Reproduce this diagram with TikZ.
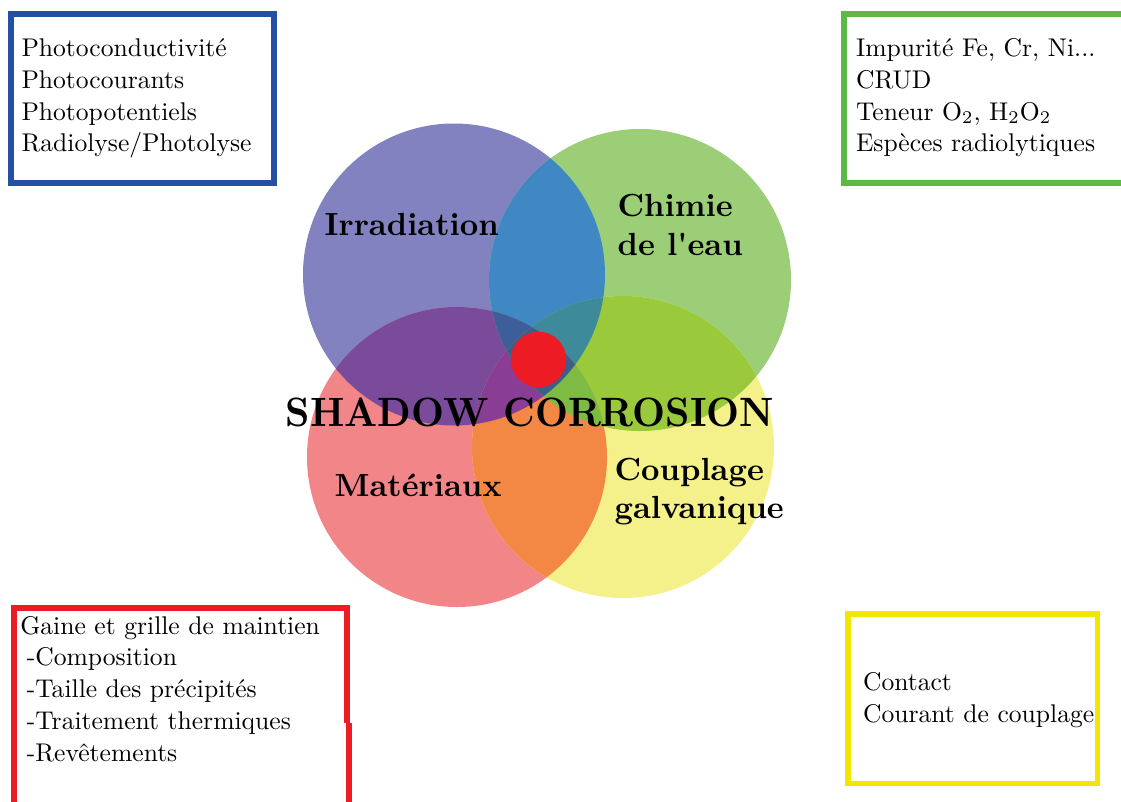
\documentclass[tikz,border=0pt]{standalone}
\usepackage{graphicx}
\definecolor{cB}{HTML}{8182BF}
\definecolor{cG}{HTML}{9CCE78}
\definecolor{cR}{HTML}{F28588}
\definecolor{cY}{HTML}{F4F08A}
\definecolor{cBG}{HTML}{3F88C4}
\definecolor{cBR}{HTML}{7A4A9B}
\definecolor{cBY}{HTML}{4F7FA8}
\definecolor{cGR}{HTML}{8FA060}
\definecolor{cGY}{HTML}{9AC93B}
\definecolor{cRY}{HTML}{F28844}
\definecolor{cBGR}{HTML}{3E5E9A}
\definecolor{cBGY}{HTML}{3D8A9A}
\definecolor{cBRY}{HTML}{8A3D95}
\definecolor{cGRY}{HTML}{7DBB45}
\definecolor{cBGRY}{HTML}{3E5E8A}
\definecolor{dotred}{HTML}{ED1C24}
\definecolor{fblue}{HTML}{2350A3}
\definecolor{fgreen}{HTML}{5DB946}
\definecolor{fred}{HTML}{ED1C24}
\definecolor{fyellow}{HTML}{F2E500}
\newcommand\circB{(454,274.5) circle[radius=151pt]}
\newcommand\circG{(640,280) circle[radius=151pt]}
\newcommand\circR{(457,457) circle[radius=150pt]}
\newcommand\circY{(623,447) circle[radius=151pt]}
\tikzset{
  boxtxt/.style={anchor=base west, inner sep=0pt, font=\fontsize{10}{12}\selectfont, scale=2.56},
  lbl/.style={anchor=base west, inner sep=0pt, font=\fontsize{10}{12}\selectfont\bfseries, scale=3.2},
  frame/.style={line width=5.5pt, line cap=butt, line join=miter},
}
\begin{document}
\begin{tikzpicture}[x=1pt,y=-1pt]
\useasboundingbox (0,0) rectangle (1121,801);
% base circles
\fill[cB] \circB;
\fill[cG] \circG;
\fill[cR] \circR;
\fill[cY] \circY;
% pairs
\begin{scope}\clip \circB; \fill[cBG] \circG; \end{scope}
\begin{scope}\clip \circB; \fill[cBR] \circR; \end{scope}
\begin{scope}\clip \circB; \fill[cBY] \circY; \end{scope}
\begin{scope}\clip \circG; \fill[cGR] \circR; \end{scope}
\begin{scope}\clip \circG; \fill[cGY] \circY; \end{scope}
\begin{scope}\clip \circR; \fill[cRY] \circY; \end{scope}
% triples
\begin{scope}\clip \circB; \clip \circG; \fill[cBGR] \circR; \end{scope}
\begin{scope}\clip \circB; \clip \circG; \fill[cBGY] \circY; \end{scope}
\begin{scope}\clip \circB; \clip \circR; \fill[cBRY] \circY; \end{scope}
\begin{scope}\clip \circG; \clip \circR; \fill[cGRY] \circY; \end{scope}
% quadruple
\begin{scope}\clip \circB; \clip \circG; \clip \circR; \fill[cBGRY] \circY; \end{scope}
% red dot
\fill[dotred] (538.5,359.5) circle[radius=27.8pt];
% circle labels
\node[lbl] (irr) at (324,235) {Irradiation};
\node[lbl] (chim1) at (617,216) {Chimie};
\node[lbl] (chim2) at (617,255.5) {de l\textquotesingle eau};
\node[lbl] (mat) at (334,496.7) {Matériaux};
\node[lbl] (coup1) at (614,480) {Couplage};
\node[lbl] (coup2) at (614,518.5) {galvanique};
\node[anchor=base west, inner sep=0pt, font=\fontsize{10}{12}\selectfont\bfseries, xscale=3.82, yscale=4.1] (title) at (285,426) {SHADOW CORROSION};
% frames
\draw[frame, fblue] (10.8,13.8) rectangle (273.8,183);
\draw[frame, fgreen] (1130,13.8) -- (843.8,13.8) -- (843.8,183) -- (1130,183);
\draw[frame, fred] (13.8,830) -- (13.8,607.8) -- (347.2,607.8) -- (347.2,722.7);
\draw[frame, fred] (348.8,722.7) -- (348.8,830);
\draw[frame, fyellow] (847.8,614.2) rectangle (1097.5,783.5);
% box texts
\node[boxtxt] (b1) at (21,56.6) {Photoconductivité};
\node[boxtxt] (b2) at (21,88.4) {Photocourants};
\node[boxtxt] (b3) at (21,120.1) {Photopotentiels};
\node[boxtxt] (b4) at (21,151.8) {Radiolyse/Photolyse};
\node[boxtxt] (g1) at (855.5,56.6) {Impurité Fe, Cr, Ni...};
\node[boxtxt] (g2) at (855.5,88.4) {CRUD};
\node[boxtxt] (g3) at (855.5,120.1) {Teneur O$_2$, H$_2$O$_2$};
\node[boxtxt] (g4) at (855.5,151.8) {Espèces radiolytiques};
\node[boxtxt] (r1) at (19.8,634) {Gaine et grille de maintien};
\node[boxtxt] (r2) at (26.3,665.8) {-Composition};
\node[boxtxt] (r3) at (26.3,697.5) {-Taille des précipités};
\node[boxtxt] (r4) at (26.3,729.3) {-Traitement thermiques};
\node[boxtxt] (r5) at (26.3,761) {-Revêtements};
\node[boxtxt] (y1) at (862.5,690.7) {Contact};
\node[boxtxt] (y2) at (862.5,722.6) {Courant de couplage};
\end{tikzpicture}
\end{document}
